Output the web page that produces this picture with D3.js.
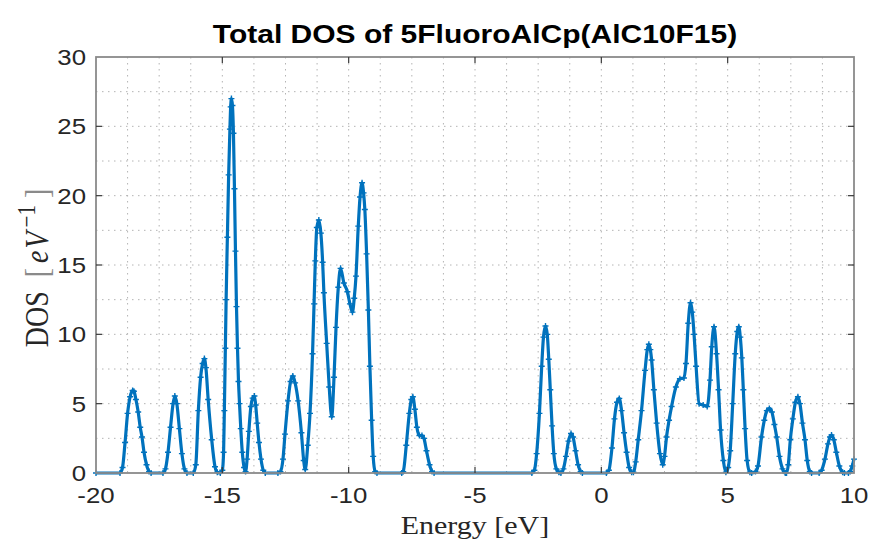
<!DOCTYPE html>
<html>
<head>
<meta charset="utf-8">
<script src="https://cdn.jsdelivr.net/npm/d3@7"></script>
<style>
  body { margin: 0; background: #fff; }
</style>
</head>
<body>
<script>
// energy grid [eV] and total DOS [1/eV], one peak per line
const energy = [
  -20, -19.05, -18.95, -18.85, -18.75, -18.65, -18.55, -18.5, -18.42, -18.33, -18.25, -18.18, -18.1, -18.0, -17.9, -17.82,
  -17.35, -17.25, -17.15, -17.05, -16.95, -16.88, -16.8, -16.7, -16.6, -16.5, -16.4,
  -16.15, -16.05, -15.95, -15.86, -15.78, -15.71, -15.65, -15.56, -15.42, -15.29, -15.2,
  -15.08, -15.0, -14.95, -14.92, -14.88, -14.85, -14.8, -14.75, -14.7, -14.67, -14.64, -14.6, -14.56, -14.52, -14.48, -14.44, -14.4, -14.36, -14.32, -14.27, -14.21, -14.14, -14.08,
  -14.02, -13.95, -13.87, -13.8, -13.73, -13.68, -13.62, -13.55, -13.47, -13.38, -13.3,
  -12.8, -12.7, -12.6, -12.52, -12.4, -12.3, -12.21, -12.12, -12.0, -11.87, -11.78, -11.72,
  -11.62, -11.53, -11.43, -11.37, -11.32, -11.26, -11.18, -11.1, -11.03, -10.98, -10.87, -10.77, -10.67, -10.58, -10.5, -10.41, -10.32, -10.19, -10.05, -9.95, -9.85, -9.78, -9.71, -9.62, -9.55, -9.47, -9.41, -9.36, -9.29, -9.22, -9.16, -9.09, -9.03, -8.95, -8.88,
  -7.9, -7.84, -7.72, -7.6, -7.52, -7.46, -7.38, -7.3, -7.2, -7.1, -7.02, -6.92, -6.8, -6.7, -6.62,
  -2.75, -2.65, -2.56, -2.45, -2.36, -2.29, -2.21, -2.14, -2.08, -2.02, -1.95, -1.88, -1.78, -1.68,
  -1.6, -1.5, -1.4, -1.3, -1.2, -1.12, -1.02, -0.92, -0.82, -0.75,
  0.2, 0.3, 0.42, 0.52, 0.62, 0.71, 0.8, 0.9, 1.0, 1.1, 1.2,
  1.27, 1.36, 1.46, 1.59, 1.73, 1.82, 1.88, 1.94, 1.99, 2.08, 2.19, 2.32, 2.43, 2.5, 2.58, 2.68, 2.78, 2.95, 3.11, 3.27, 3.35, 3.44, 3.53, 3.6, 3.67, 3.75, 3.87, 4.03, 4.19, 4.3, 4.37, 4.46, 4.56, 4.64, 4.72, 4.83, 4.93,
  5.02, 5.1, 5.2, 5.3, 5.38, 5.44, 5.5, 5.56, 5.62, 5.69, 5.77, 5.88, 5.95,
  6.1, 6.2, 6.34, 6.45, 6.55, 6.65, 6.75, 6.85, 6.94, 7.05, 7.17, 7.28,
  7.33, 7.4, 7.48, 7.58, 7.68, 7.78, 7.86, 7.96, 8.06, 8.15, 8.25, 8.32,
  8.62, 8.72, 8.85, 8.97, 9.05, 9.11, 9.2, 9.3, 9.42, 9.55, 9.62,
  9.78, 9.85, 9.93, 10
];
const dos = [
  0, 0, 0.4, 2.2, 4.3, 5.5, 5.95, 5.9, 5.3, 4.4, 3.3, 2.6, 1.5, 0.6, 0.1, 0,
  0, 0.3, 1.5, 3.3, 5.0, 5.55, 5.0, 3.2, 1.4, 0.3, 0,
  0, 0.6, 4.5, 6.9, 7.9, 8.25, 7.6, 5.3, 2.4, 0.45, 0.05,
  0, 0.2, 1.5, 4.5, 9, 12.5, 17, 21.5, 24.8, 26.4, 27.0, 26.5, 24.5, 20.5, 16, 12, 9, 6.6, 5.0, 3.2, 1.5, 0.4, 0.1,
  1.0, 3.0, 4.8, 5.4, 5.55, 4.9, 3.6, 2.2, 1.0, 0.2, 0,
  0, 0.1, 1.0, 2.8, 5.2, 6.6, 7.0, 6.5, 5.2, 2.9, 0.9, 0.25,
  2.0, 4.3, 8.6, 12.2, 15.3, 17.7, 18.24, 17.3, 15.2, 13.0, 9.35, 6.2, 4.06, 6.9, 10.5, 13.4, 14.76, 13.7, 13.07, 12.2, 11.6, 12.6, 14.2, 17.8, 19.9, 20.93, 20.2, 19.0, 15.8, 11.75, 7.7, 3.8, 1.2, 0.1, 0,
  0, 0.1, 2.0, 4.3, 5.3, 5.5, 4.6, 3.3, 2.7, 2.7, 2.5, 1.6, 0.6, 0.1, 0,
  0, 0.2, 1.4, 4.3, 7.7, 9.8, 10.6, 10.0, 8.2, 6.0, 3.4, 1.4, 0.3, 0.05,
  0, 0.3, 1.2, 2.3, 2.85, 2.6, 1.6, 0.6, 0.1, 0,
  0, 0.2, 1.8, 3.9, 5.1, 5.38, 4.5, 2.9, 1.5, 0.4, 0.05,
  0.05, 0.8, 2.4, 4.5, 7.4, 8.9, 9.28, 8.9, 8.15, 6.0, 3.6, 1.4, 0.6, 1.2, 2.6, 3.8, 4.8, 6.2, 6.8, 6.85, 7.9, 10.8, 12.28, 11.6, 10.0, 7.7, 5.0, 4.9, 4.8, 6.7, 9.1, 10.55, 8.6, 6.0, 3.1, 0.9, 0.05,
  0.4, 1.6, 5.0, 8.6, 10.2, 10.55, 9.8, 8.3, 6.0, 3.2, 0.9, 0.05, 0,
  0.1, 0.5, 2.6, 3.8, 4.5, 4.66, 4.4, 3.5, 2.6, 1.2, 0.3, 0,
  0, 0.6, 2.4, 3.9, 5.1, 5.5, 5.0, 3.6, 2.4, 0.9, 0.1, 0,
  0, 0.2, 1.0, 2.1, 2.6, 2.74, 2.4, 1.5, 0.5, 0.05, 0,
  0, 0.1, 0.5, 1.0
];

const xTicks = [-20, -15, -10, -5, 0, 5, 10];
const yTicks = [0, 5, 10, 15, 20, 25, 30];
const xMinor = [-18.75, -17.5, -16.25, -13.75, -12.5, -11.25, -8.75, -7.5, -6.25, -3.75, -2.5, -1.25, 1.25, 2.5, 3.75, 6.25, 7.5, 8.75];
const yMinor = [2.5, 7.5, 12.5, 17.5, 22.5, 27.5];
const chartTitle = "Total DOS of 5FluoroAlCp(AlC10F15)";

(function(){
  const SVG_WIDTH = 875;
  const SVG_HEIGHT = 550;
  const MARGIN = { top: 57, right: 21, bottom: 77, left: 96 };
  const STRETCH = 1.2;           // the picture is widened horizontally
  const BLUE = '#0072BD';
  const SANS = '"Liberation Sans", Arial, Helvetica, sans-serif';
  const SERIF = '"Liberation Serif", "Times New Roman", serif';

  const width = SVG_WIDTH - MARGIN.left - MARGIN.right;
  const height = SVG_HEIGHT - MARGIN.top - MARGIN.bottom;

  const svg = d3.select('body').append('svg')
    .attr('width', SVG_WIDTH)
    .attr('height', SVG_HEIGHT)
    .style('display', 'block');

  const g = svg.append('g')
    .attr('transform', 'translate(' + MARGIN.left + ',' + MARGIN.top + ')');

  const x = d3.scaleLinear().domain([-20, 10]).range([0, width]);
  const y = d3.scaleLinear().domain([0, 30]).range([height, 0]);

  // text helper, widened like the source picture
  function label(parent, px, py, str, anchor) {
    return parent.append('text')
      .attr('transform', 'translate(' + px + ',' + py + ') scale(' + STRETCH + ',1)')
      .attr('text-anchor', anchor)
      .text(str);
  }

  // dotted grid, major and minor
  const grid = g.append('g').attr('class', 'grid')
    .attr('stroke', '#b4b4b4')
    .attr('stroke-width', 1)
    .attr('stroke-dasharray', '1.5,4.5');
  grid.selectAll('line.vx')
    .data(xTicks.slice(1, -1).concat(xMinor))
    .enter().append('line')
      .attr('class', 'vx')
      .attr('x1', d => x(d)).attr('x2', d => x(d))
      .attr('y1', 0).attr('y2', height);
  grid.selectAll('line.hy')
    .data(yTicks.slice(1, -1).concat(yMinor))
    .enter().append('line')
      .attr('class', 'hy')
      .attr('y1', d => y(d)).attr('y2', d => y(d))
      .attr('x1', 0).attr('x2', width);

  // DOS curve
  const pts = energy.map((e, i) => [e, dos[i]]);
  const line = d3.line()
    .x(d => x(d[0]))
    .y(d => y(d[1]))
    .curve(d3.curveMonotoneX);
  g.append('path')
    .datum(pts)
    .attr('fill', 'none')
    .attr('stroke', BLUE)
    .attr('stroke-width', 3.2)
    .attr('stroke-linejoin', 'round')
    .attr('d', line);
  // '+' markers on every sample
  g.append('g').selectAll('path.mk')
    .data(pts)
    .enter().append('path')
      .attr('class', 'mk')
      .attr('d', d => {
        const cx = x(d[0]), cy = y(d[1]), s = 3;
        return 'M' + (cx - s) + ',' + cy + 'H' + (cx + s) + 'M' + cx + ',' + (cy - s) + 'V' + (cy + s);
      })
      .attr('stroke', BLUE)
      .attr('stroke-width', 1.4);

  // axes box
  g.append('rect')
    .attr('x', 0).attr('y', 0)
    .attr('width', width).attr('height', height)
    .attr('fill', 'none')
    .attr('stroke', '#8a8a8a')
    .attr('stroke-width', 1.8);

  // inward ticks on all four sides
  const TICK = 6;
  const ticks = g.append('g').attr('stroke', '#3a3a3a').attr('stroke-width', 1.2);
  xTicks.slice(1, -1).forEach(t => {
    ticks.append('line').attr('x1', x(t)).attr('x2', x(t)).attr('y1', height).attr('y2', height - TICK);
    ticks.append('line').attr('x1', x(t)).attr('x2', x(t)).attr('y1', 0).attr('y2', TICK);
  });
  yTicks.slice(1, -1).forEach(t => {
    ticks.append('line').attr('y1', y(t)).attr('y2', y(t)).attr('x1', 0).attr('x2', TICK);
    ticks.append('line').attr('y1', y(t)).attr('y2', y(t)).attr('x1', width).attr('x2', width - TICK);
  });

  // tick labels
  const tl = g.append('g')
    .attr('font-family', SANS)
    .attr('font-size', 21.5)
    .attr('fill', '#262626');
  xTicks.forEach(t => label(tl, x(t), height + 30, String(t), 'middle'));
  yTicks.forEach(t => label(tl, -10, y(t) + 8, String(t), 'end'));

  // title
  label(svg, MARGIN.left + width / 2, 43, chartTitle, 'middle')
    .attr('font-family', SANS)
    .attr('font-weight', 'bold')
    .attr('font-size', 25)
    .attr('fill', '#000');

  // x label
  label(svg, MARGIN.left + width / 2, 534, 'Energy [eV]', 'middle')
    .attr('font-family', SERIF)
    .attr('font-size', 25)
    .attr('fill', '#262626');

  // y label: DOS [eV^-1]
  const yl = svg.append('text')
    .attr('transform', 'translate(48,' + (MARGIN.top + height / 2 + 3) + ') scale(' + STRETCH + ',1) rotate(-90)')
    .attr('text-anchor', 'middle')
    .attr('font-family', SERIF)
    .attr('font-size', 28)
    .attr('fill', '#262626');
  yl.append('tspan').text('DOS');
  yl.append('tspan').attr('dx', 14).attr('fill', '#8a8a8a').text('[');
  yl.append('tspan').attr('dx', 5).attr('font-style', 'italic').text('e');
  yl.append('tspan').attr('dx', 2).attr('font-style', 'italic').text('V');
  yl.append('tspan').attr('dx', 4).attr('font-size', 21).attr('dy', -11).text('\u22121');
  yl.append('tspan').attr('dx', 7).attr('dy', 11).attr('fill', '#8a8a8a').text(']');
})();
</script>
</body>
</html>
